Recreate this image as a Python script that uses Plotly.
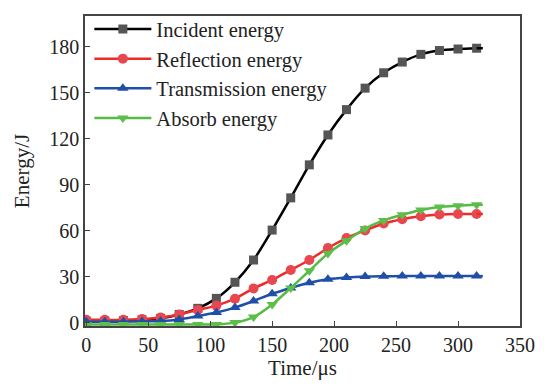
import plotly.graph_objects as go

time_us = [0, 15, 30, 45, 60, 75, 90, 105, 120, 135, 150, 165, 180, 195, 210, 225, 240, 255, 270, 285, 300, 315]
t_end = 320

incident = [1, 1, 1.5, 2, 3, 5.5, 9.5, 16, 26.5, 41, 60.5, 81.5, 103, 122.5, 139, 153, 163, 170, 175, 177.5, 178.5, 179]
reflection = [2, 2, 2, 2.5, 3.5, 5.5, 8.5, 11.3, 15.8, 22.5, 28, 34.5, 41, 48.8, 55.3, 60.3, 64.8, 67.6, 69.5, 70.6, 71, 71]
transmission = [0.8, 0.8, 0.8, 1, 1.2, 2.3, 4.5, 6.8, 10, 14.3, 19, 22.8, 26.2, 28.5, 29.6, 30.2, 30.4, 30.5, 30.5, 30.5, 30.5, 30.5]
absorb = [-1, -1, -1, -1, -1, -1, -1, -1, 0.2, 3.8, 12, 22.8, 34, 45.2, 53.6, 61.5, 66.8, 70.5, 73.6, 75.6, 76.4, 77]

series = [
    ("Incident energy", incident, "#000000", "#555555", "square", 9),
    ("Reflection energy", reflection, "#ee2a2a", "#e8474f", "circle", 10),
    ("Transmission energy", transmission, "#1f4fa8", "#1f4fa8", "triangle-up", 10),
    ("Absorb energy", absorb, "#55bb44", "#5cbf4a", "triangle-down", 10),
]

fig = go.Figure()
for name, vals, lc, mc, sym, ms in series:
    fig.add_trace(go.Scatter(
        x=time_us, y=vals, name=name, mode="lines+markers",
        line=dict(color=lc, width=2.5, shape="spline", smoothing=0.8),
        marker=dict(symbol=sym, size=ms, color=mc, line=dict(width=0)),
    ))
    fig.add_trace(go.Scatter(
        x=[time_us[-1], t_end], y=[vals[-1], vals[-1]], mode="lines",
        line=dict(color=lc, width=2.5), showlegend=False, hoverinfo="skip",
    ))

axis_common = dict(
    showline=True, linecolor="#444444", linewidth=1.5, mirror=True,
    ticks="inside", ticklen=5, tickwidth=1.2, tickcolor="#444444",
    showgrid=False, zeroline=False,
    tickfont=dict(family="Liberation Serif", size=20, color="#222222"),
)

fig.update_layout(
    width=544, height=385,
    margin=dict(l=85, r=20, t=9, b=59),
    paper_bgcolor="white", plot_bgcolor="white",
    font=dict(family="Liberation Serif", size=21, color="#222222"),
    xaxis=dict(range=[-1, 350], tickvals=[0, 50, 100, 150, 200, 250, 300, 350],
               title=dict(text="Time/μs", font=dict(size=21), standoff=4), **axis_common),
    yaxis=dict(range=[-2, 200], tickvals=[0, 30, 60, 90, 120, 150, 180],
               title=dict(text="Energy/J", font=dict(size=21), standoff=14), **axis_common),
    legend=dict(x=0.01, y=1.022, xanchor="left", yanchor="top",
                bgcolor="rgba(0,0,0,0)", borderwidth=0,
                font=dict(family="Liberation Serif", size=20.5, color="#222222"),
                tracegroupgap=0, itemwidth=57),
    showlegend=True,
)

fig.write_html("out.html")
